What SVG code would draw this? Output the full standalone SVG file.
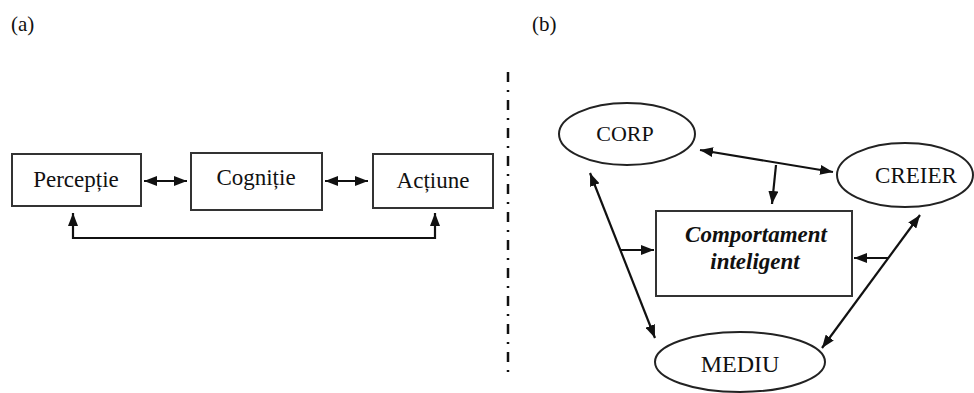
<svg xmlns="http://www.w3.org/2000/svg" width="974" height="393" viewBox="0 0 974 393" font-family="'Times New Roman', 'Liberation Serif', 'DejaVu Serif', serif">
<style>
text{font-family:'Times New Roman','Liberation Serif','DejaVu Serif',serif;fill:#111;}
.box{fill:#fff;stroke:#333;stroke-width:2;}
.ell{fill:#fff;stroke:#222;stroke-width:2;}
.ln{fill:none;stroke:#111;stroke-width:2.2;}
.lbl{font-size:23px;text-anchor:middle;}
.bi{font-weight:bold;font-style:italic;}
</style>
<defs>
<marker id="ah" viewBox="0 0 13 10" refX="13" refY="5" markerWidth="13" markerHeight="10" markerUnits="userSpaceOnUse" orient="auto-start-reverse">
<path d="M0,0 L13,5 L0,10 z" fill="#111"/>
</marker>
</defs>
<text x="11" y="31" style="font-size:21px">(a)</text>
<text x="532" y="31" style="font-size:21px">(b)</text>
<line x1="508" y1="72" x2="508" y2="380" stroke="#111" stroke-width="2.5" stroke-dasharray="10 8 2 8"/>
<g id="perceptie"><rect class="box" x="12" y="154" width="129" height="52"/><text class="lbl" x="76" y="187">Percepție</text></g>
<g id="cognitie"><rect class="box" x="191" y="153" width="131" height="57"/><text class="lbl" x="256" y="185">Cogniție</text></g>
<g id="actiune"><rect class="box" x="373" y="154" width="120" height="54"/><text class="lbl" x="433" y="188">Acțiune</text></g>
<g id="corp"><ellipse class="ell" cx="627" cy="134" rx="68" ry="31"/><text class="lbl" x="625" y="141" style="font-size:22px">CORP</text></g>
<g id="creier"><ellipse class="ell" cx="905" cy="175" rx="68" ry="32"/><text class="lbl" x="916" y="183">CREIER</text></g>
<g id="comportament"><rect class="box" x="656" y="211" width="196" height="85"/><text class="lbl bi" x="756" y="242">Comportament</text><text class="lbl bi" x="755" y="269">inteligent</text></g>
<g id="mediu"><ellipse class="ell" cx="740" cy="362" rx="85" ry="30"/><text class="lbl" x="740" y="372" style="font-size:24px">MEDIU</text></g>
<g id="connectors">
<line class="ln" x1="144" y1="181" x2="187" y2="181" marker-start="url(#ah)" marker-end="url(#ah)"/>
<line class="ln" x1="325" y1="181" x2="368" y2="181" marker-start="url(#ah)" marker-end="url(#ah)"/>
<path class="ln" d="M73,213 L73,238 L435,238 L435,213" marker-start="url(#ah)" marker-end="url(#ah)"/>
<line class="ln" x1="700" y1="150" x2="833" y2="172" marker-start="url(#ah)" marker-end="url(#ah)"/>
<line class="ln" x1="776" y1="165" x2="772" y2="204" marker-end="url(#ah)"/>
<line class="ln" x1="590" y1="173" x2="655" y2="338" marker-start="url(#ah)" marker-end="url(#ah)"/>
<line class="ln" x1="920" y1="215" x2="822" y2="348" marker-start="url(#ah)" marker-end="url(#ah)"/>
<line class="ln" x1="621" y1="250" x2="654" y2="250" marker-end="url(#ah)"/>
<line class="ln" x1="888" y1="258" x2="854" y2="258" marker-end="url(#ah)"/>
</g>
</svg>
